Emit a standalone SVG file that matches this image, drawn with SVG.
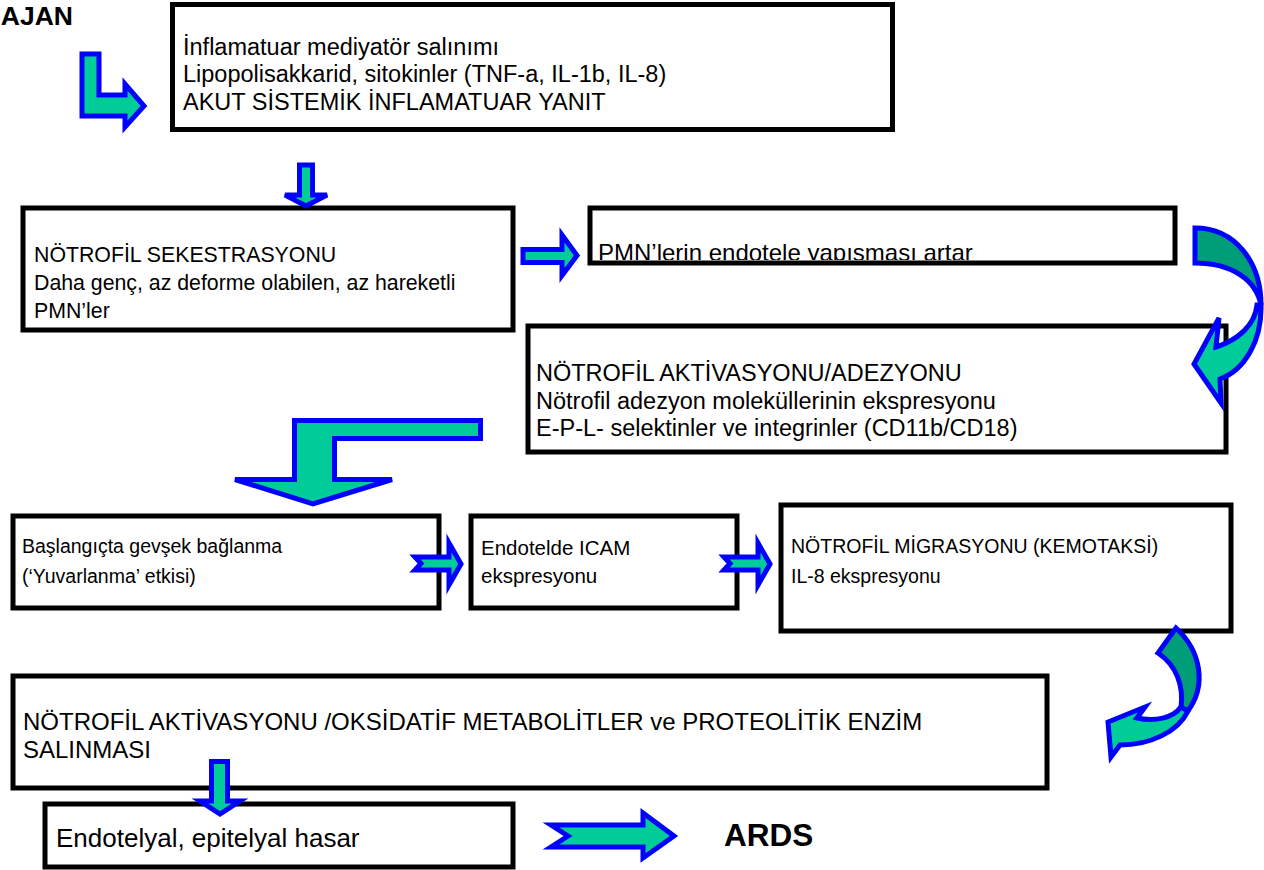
<svg xmlns="http://www.w3.org/2000/svg" width="1264" height="870" viewBox="0 0 1264 870">
<style>
.box{fill:#ffffff;stroke:#000000;stroke-width:5}
.t{font-family:"Liberation Sans",Arial,sans-serif;fill:#000000}
.b{font-family:"Liberation Sans",Arial,sans-serif;font-weight:bold;fill:#000000}
.arr{fill:#00CC99;stroke:#0000FF;stroke-width:5;stroke-linejoin:miter}
.arrd{fill:#009E78;stroke:#0000FF;stroke-width:5;stroke-linejoin:miter}
</style>
<defs>
<clipPath id="c3"><rect x="590" y="208" width="585" height="52"/></clipPath>
</defs>
<rect width="1264" height="870" fill="#ffffff"/>
<text class="b" x="73" y="25" font-size="26.5" text-anchor="end">AJAN</text>
<g id="n1">
<rect class="box" x="172.5" y="4.5" width="720" height="125"/>
<text class="t" font-size="23.5"><tspan x="183" y="55">İnflamatuar mediyatör salınımı</tspan><tspan x="183" y="82">Lipopolisakkarid, sitokinler (TNF-a, IL-1b, IL-8)</tspan><tspan x="183" y="110">AKUT SİSTEMİK İNFLAMATUAR YANIT</tspan></text>
</g>
<g id="n2">
<rect class="box" x="23" y="208" width="490" height="122"/>
<text class="t" font-size="21.3"><tspan x="34" y="262">NÖTROFİL SEKESTRASYONU</tspan><tspan x="34" y="290">Daha genç, az deforme olabilen, az hareketli</tspan><tspan x="34" y="318">PMN’ler</tspan></text>
</g>
<g id="n3">
<rect x="590" y="208" width="585" height="55" fill="#ffffff"/>
<text class="t" font-size="24" x="598" y="261" clip-path="url(#c3)">PMN’lerin endotele yapışması artar</text>
<rect x="590" y="208" width="585" height="55" fill="none" stroke="#000000" stroke-width="5"/>
</g>
<g id="n4">
<rect class="box" x="528" y="326" width="698" height="126"/>
<text class="t" font-size="23.5"><tspan x="536" y="381">NÖTROFİL AKTİVASYONU/ADEZYONU</tspan><tspan x="536" y="409">Nötrofil adezyon moleküllerinin ekspresyonu</tspan><tspan x="536" y="436">E-P-L- selektinler ve integrinler (CD11b/CD18)</tspan></text>
</g>
<g id="n5">
<rect class="box" x="13" y="516" width="426" height="92"/>
<text class="t" font-size="19.5"><tspan x="22" y="553">Başlangıçta gevşek bağlanma</tspan><tspan x="22" y="583">(‘Yuvarlanma’ etkisi)</tspan></text>
</g>
<g id="n6">
<rect class="box" x="471" y="516" width="266" height="92"/>
<text class="t" font-size="20.5"><tspan x="481" y="555">Endotelde ICAM</tspan><tspan x="481" y="583">ekspresyonu</tspan></text>
</g>
<g id="n7">
<rect class="box" x="781" y="505" width="450" height="126"/>
<text class="t" font-size="19.5"><tspan x="791" y="553">NÖTROFİL MİGRASYONU (KEMOTAKSİ)</tspan><tspan x="791" y="583">IL-8 ekspresyonu</tspan></text>
</g>
<g id="n8">
<rect class="box" x="13" y="676" width="1034" height="112"/>
<text class="t" font-size="24"><tspan x="23" y="730">NÖTROFİL AKTİVASYONU /OKSİDATİF METABOLİTLER ve PROTEOLİTİK ENZİM</tspan><tspan x="23" y="758">SALINMASI</tspan></text>
</g>
<g id="n9">
<rect class="box" x="45" y="804" width="468" height="63"/>
<text class="t" font-size="26" x="56" y="847">Endotelyal, epitelyal hasar</text>
</g>
<g id="n10">
<text class="b" x="724" y="846" font-size="31.5">ARDS</text>
</g>
<g id="connectors">
<path class="arr" d="M82,54 H99 V95 H125 V84 L144,106 L125,127 V116 H82 Z"/>
<path class="arr" d="M299.5,165 H312.5 V195 H327 L306,206 L285,195 H299.5 Z"/>
<path class="arr" d="M523,249.5 H562 V235 L577,255.5 L562,275.5 V262.5 H523 Z"/>
<path class="arrd" d="M1195,228 C1235,228 1261,262 1261,305 C1256,280 1232,263 1195,263 Z"/>
<path class="arr" d="M1261,305 C1262,340 1245,370 1220,379 L1221,403 L1194,364 L1219,318 L1216,347 C1238,340 1255,325 1257,305 Z"/>
<path class="arr" d="M294.5,420.5 H480.5 V438.5 H334.5 V479.5 H392 L313,504 L235,479.5 H294.5 Z"/>
<path class="arr" d="M415,557 H449 V543 L461,564 L449,585 V570 H415 L421,563.5 Z"/>
<path class="arr" d="M724,557 H758 V543 L770,564 L758,585 V570 H724 L730,563.5 Z"/>
<path class="arrd" d="M1176,628 C1200,650 1208,685 1187,712 L1181,708 C1184,685 1176,665 1158,653 Z"/>
<path class="arr" d="M1188,711 C1178,732 1150,745 1120,745 L1111,757 L1108,722 L1145,707 L1137,718 C1155,722 1173,718 1181,707 Z"/>
<path class="arr" d="M211.5,761.5 H227.5 V801 H240 L220,814 L200,801 H211.5 Z"/>
<path class="arr" d="M551,825 H643 V813 L674,836 L643,858 V847 H551 L568,836 Z"/>
</g>
</svg>
